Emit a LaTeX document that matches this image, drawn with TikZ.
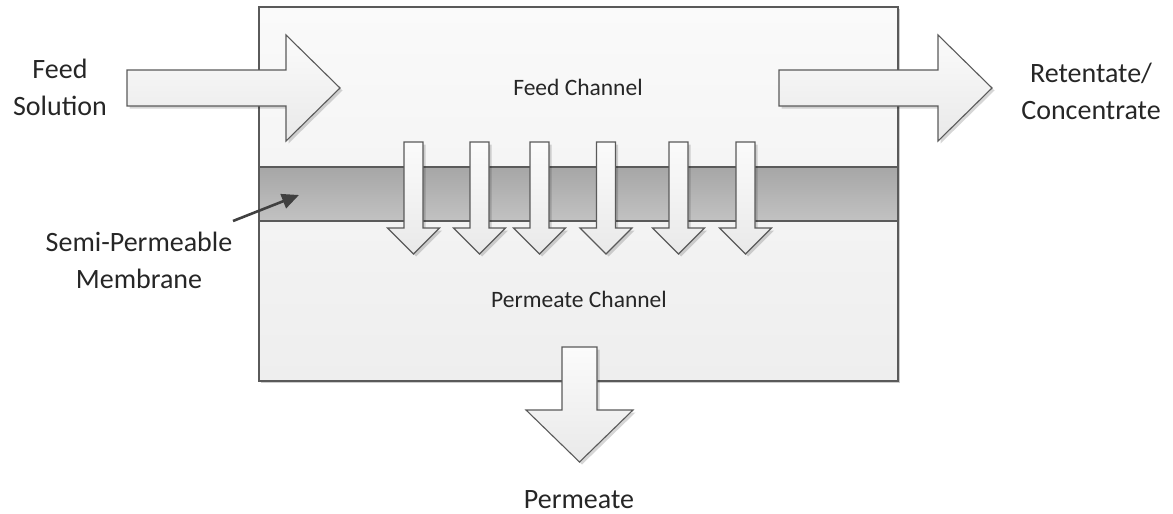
\documentclass[tikz,border=0pt]{standalone}
\usepackage{fontspec}
\setmainfont{Carlito}
\usetikzlibrary{shadows,arrows.meta}
\definecolor{edge}{HTML}{5A5A5A}
\definecolor{txt}{HTML}{262626}
\definecolor{boxtop}{HTML}{FAFAFA}
\definecolor{boxbot}{HTML}{EEEEEE}
\definecolor{memtop}{HTML}{A6A6A6}
\definecolor{membot}{HTML}{C2C2C2}
\definecolor{arrtop}{HTML}{FBFBFB}
\definecolor{arrbot}{HTML}{E9E9E9}
\definecolor{pointer}{HTML}{404040}
\begin{document}
\begin{tikzpicture}[x=1pt,y=-1pt,
  fat/.style={draw=edge, line width=1.1pt, line join=miter, top color=arrtop, bottom color=arrbot,
    drop shadow={shadow xshift=2.5pt, shadow yshift=-2.5pt, opacity=0.16, fill=black}},
  chamber/.style={draw=edge, line width=1.3pt, top color=boxtop, bottom color=boxbot,
    drop shadow={shadow xshift=1.5pt, shadow yshift=-1.5pt, opacity=0.2, fill=black}},
  membrane/.style={draw=edge, line width=1.1pt, top color=memtop, bottom color=membot},
  lbl/.style={font=\fontsize{28}{36.5}\selectfont, text=txt, inner sep=0pt, align=center},
  chan/.style={font=\fontsize{23.5}{28}\selectfont, text=txt, inner sep=0pt, align=center},
  ptr/.style={draw=pointer, line width=2.6pt, -{Triangle[length=17pt,width=15pt]}}]
\useasboundingbox (0,0) rectangle (1173,514);
% chamber and membrane
\path[chamber] (259,7) rectangle (898,381);
\path[membrane] (259,167) rectangle (898,221);
% permeation arrows through the membrane
\foreach \c in {413.5,479.5,539.5,606,678.5,745.5}{
  \path[fat] ({\c-9.5},142) -- ({\c+9.5},142) -- ({\c+9.5},228) -- ({\c+26},228)
    -- (\c,254) -- ({\c-26},228) -- ({\c-9.5},228) -- cycle;
}
% feed arrow
\path[fat] (127,70) -- (286,70) -- (286,35) -- (340,88) -- (286,141) -- (286,106) -- (127,106) -- cycle;
% retentate arrow
\path[fat] (779,70) -- (938,70) -- (938,35) -- (992,88) -- (938,141) -- (938,106) -- (779,106) -- cycle;
% permeate arrow
\path[fat] (562,347) -- (597,347) -- (597,410) -- (633,410) -- (579.5,462) -- (526,410) -- (562,410) -- cycle;
% labels (base anchor = baseline of the last line)
\node[lbl, anchor=base] (feed) at (60,115) {Feed\\Solution};
\node[lbl, anchor=base] (ret) at (1091,119) {Retentate/\\Concentrate};
\node[lbl, anchor=base] (semi) at (139,288) {Semi-Permeable\\Membrane};
\node[lbl, anchor=base] (perm) at (579,508) {Permeate};
\node[chan, anchor=base] (fch) at (578,95) {Feed Channel};
\node[chan, anchor=base] (pch) at (579,307) {Permeate Channel};
% pointer to membrane
\coordinate (ptail) at (233,221);
\coordinate (phead) at (299,195);
\draw[ptr] (ptail) -- (phead);
\end{tikzpicture}
\end{document}
